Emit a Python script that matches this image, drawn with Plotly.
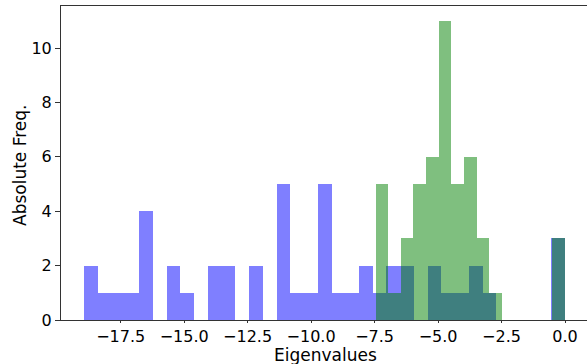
import numpy as np
import plotly.graph_objects as go

# Histogram counts of the two eigenvalue spectra (49 eigenvalues each)
blue_counts = [2, 1, 1, 1, 4, 0, 2, 1, 0, 2, 2, 0, 2, 0, 5, 1, 1, 5, 1, 1,
               2, 1, 2, 2, 0, 2, 1, 1, 2, 1, 0, 0, 0, 0, 3]
green_counts = [5, 1, 3, 5, 6, 11, 5, 6, 3, 1, 0, 0, 0, 0, 3]

# Range of each spectrum (first bin edge, last bin edge)
blue_range = (-18.93, 0.0)
green_range = (-7.46, 0.0)

x_tick_vals = [-17.5, -15.0, -12.5, -10.0, -7.5, -5.0, -2.5, 0.0]
y_tick_vals = [0, 2, 4, 6, 8, 10]


def bins(counts, lo, hi):
    edges = np.linspace(lo, hi, len(counts) + 1)
    centers = (edges[:-1] + edges[1:]) / 2
    return centers, edges[1] - edges[0]


bx, bw = bins(blue_counts, *blue_range)
gx, gw = bins(green_counts, *green_range)

fig = go.Figure()
fig.add_trace(go.Bar(x=bx, y=blue_counts, width=bw,
                     marker=dict(color="rgba(0,0,255,0.5)", line=dict(width=0))))
fig.add_trace(go.Bar(x=gx, y=green_counts, width=gw,
                     marker=dict(color="rgba(0,128,0,0.5)", line=dict(width=0))))

font = dict(family="DejaVu Sans", size=17, color="#000000")
tick_font = dict(family="DejaVu Sans", size=16, color="#000000")

W, H = 587, 364
L, R, T, B = 61, 0, 6, 44
pw, ph = W - L - R, H - T - B

fig.update_layout(
    width=W, height=H,
    margin=dict(l=L, r=R, t=T, b=B),
    barmode="overlay", bargap=0,
    showlegend=False,
    plot_bgcolor="white", paper_bgcolor="white",
    font=font,
    xaxis=dict(
        range=[-19.85, 0.866],
        tickvals=x_tick_vals, tickformat=".1f",
        showgrid=False, zeroline=False,
        showline=True, linecolor="#333333", linewidth=1, mirror=True,
        ticks="outside", ticklen=2, tickcolor="#333333", tickwidth=1,
        tickfont=tick_font,
    ),
    yaxis=dict(
        range=[0, 11.55],
        tickvals=y_tick_vals,
        showgrid=False, zeroline=False,
        showline=True, linecolor="#333333", linewidth=1,
        ticks="outside", ticklen=5, tickcolor="#333333", tickwidth=1,
        tickfont=tick_font,
    ),
    annotations=[
        dict(text="Eigenvalues", xref="paper", yref="paper",
             x=(325 - L) / pw, y=-B / ph, yshift=-3,
             xanchor="center", yanchor="bottom", showarrow=False, font=font),
        dict(text="Absolute Freq.", xref="paper", yref="paper",
             x=(20 - L) / pw, y=(T + ph - 165) / ph, textangle=-90,
             xanchor="center", yanchor="middle", showarrow=False, font=font),
    ],
)

fig.write_html("out.html")
